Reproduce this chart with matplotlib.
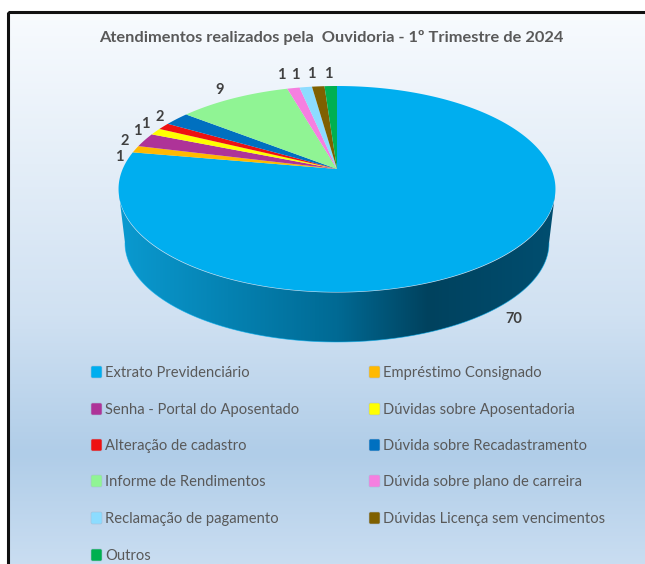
import numpy as np
import matplotlib
matplotlib.use("Agg")
import matplotlib.pyplot as plt
from matplotlib.colors import LinearSegmentedColormap
from matplotlib.patches import FancyBboxPatch, Polygon, Rectangle

plt.rcParams["font.family"] = ["Lato", "DejaVu Sans"]

TITLE = "Atendimentos realizados pela  Ouvidoria - 1º Trimestre de 2024"
categories = ["Extrato Previdenciário", "Empréstimo Consignado",
              "Senha - Portal do Aposentado", "Dúvidas sobre Aposentadoria",
              "Alteração de cadastro", "Dúvida sobre Recadastramento",
              "Informe de Rendimentos", "Dúvida sobre plano de carreira",
              "Reclamação de pagamento", "Dúvidas Licença sem vencimentos",
              "Outros"]
values = [70, 1, 2, 1, 1, 2, 9, 1, 1, 1, 1]
colors = ["#00AEEF", "#FFB900", "#AE3398", "#FFFF00", "#EE1111", "#0070C0",
          "#90F494", "#F57FE0", "#8CDCFF", "#7F6000", "#00B050"]

# where excel put the data labels (pixels)
label_pos = [(514, 318), (119, 156), (125, 140), (137, 130), (145, 123), (160, 116),
             (220, 89), (281, 74), (295, 74), (311, 73), (328, 73)]

TEXT = "#595959"
W, H = 645, 564

fig = plt.figure(figsize=(W / 100, H / 100), dpi=100, facecolor="white")
ax = fig.add_axes([0, 0, 1, 1])
ax.axis("off")

# ---- chart background ----
bg = LinearSegmentedColormap.from_list("bg", [(0, "#F8FBFE"), (0.55, "#D0E1F2"),
                                              (0.80, "#B0CDE8"), (1, "#C9DDF1")])
ax.imshow(np.linspace(0, 1, 256)[:, None], extent=(8, W, H, 12), cmap=bg,
          aspect="auto", zorder=0)
ax.add_patch(Rectangle((8, 12), W, H, fill=False, ec="#111111", lw=2.2, zorder=1))


# tilted disc: perspective projection of the unit circle, apex is off the ellipse centre
def project(theta, r=1.0):
    x = r * np.sin(theta)
    y = -r * np.cos(theta)
    k = 1 - 0.194 * y
    return 337 + 214.3 * x / k, 169 + 99.1 * y / k


# ---- side wall with its shading ----
t = np.linspace(-np.pi / 2, np.pi / 2, 200)
top_x = 337 - 218.5 * np.sin(t)
top_y = 190 + 102.5 * np.cos(t)
bot_x = 337 + 212 * np.sin(t)
bot_y = 243 + 99 * np.cos(t)
side = np.vstack([np.column_stack([top_x, top_y]), np.column_stack([bot_x, bot_y])])
side_patch = Polygon(side, closed=True, fc="none", ec="none", transform=ax.transData)
ax.add_patch(side_patch)
shade = LinearSegmentedColormap.from_list("side", [(0, "#0A9AD0"), (0.5, "#006A94"),
                                                   (0.71, "#00425E"), (1, "#004E70")])
im = ax.imshow(np.linspace(0, 1, 256)[None, :], extent=(119, 555, 345, 185), cmap=shade,
               aspect="auto", zorder=2)
im.set_clip_path(side_patch)
ax.plot(bot_x, bot_y, color="#00AEEF", lw=0.6, alpha=0.6, zorder=2)

# ---- top face ----
edges = np.cumsum([0] + values) / sum(values) * 2 * np.pi
for a0, a1, c in zip(edges[:-1], edges[1:], colors):
    th = np.linspace(a0, a1, max(int((a1 - a0) * 80), 4))
    px, py = project(th)
    ax.fill(np.r_[337, px], np.r_[169, py], color=c, lw=0, zorder=3)

# ---- texts (baseline anchored, va="center" shifts with descenders) ----
ax.text(331.5, 42, TITLE, ha="center", va="baseline", fontsize=11.8, fontweight="bold",
        color=TEXT, zorder=5)
for v, (lx, ly) in zip(values, label_pos):
    ax.text(lx, ly + 5, str(v), ha="center", va="baseline", fontsize=10.5, fontweight="bold",
            color="#404040", zorder=5)

# legend, two columns filled row by row
col_x = [91, 369]
row_y = [372, 409, 445, 481, 518, 555]
for i, (name, c) in enumerate(zip(categories, colors)):
    x0, y0 = col_x[i % 2], row_y[i // 2]
    ax.add_patch(FancyBboxPatch((x0, y0 - 6), 11, 12, boxstyle="round,pad=0,rounding_size=1.5",
                                fc=c, ec="#A9BDD6", lw=0.4, zorder=4))
    ax.text(x0 + 14, y0 + 5, name, ha="left", va="baseline", fontsize=10.6, color=TEXT, zorder=5)

ax.set_xlim(0, W)
ax.set_ylim(H, 0)
fig.savefig("out.png", dpi=100, facecolor="white")
